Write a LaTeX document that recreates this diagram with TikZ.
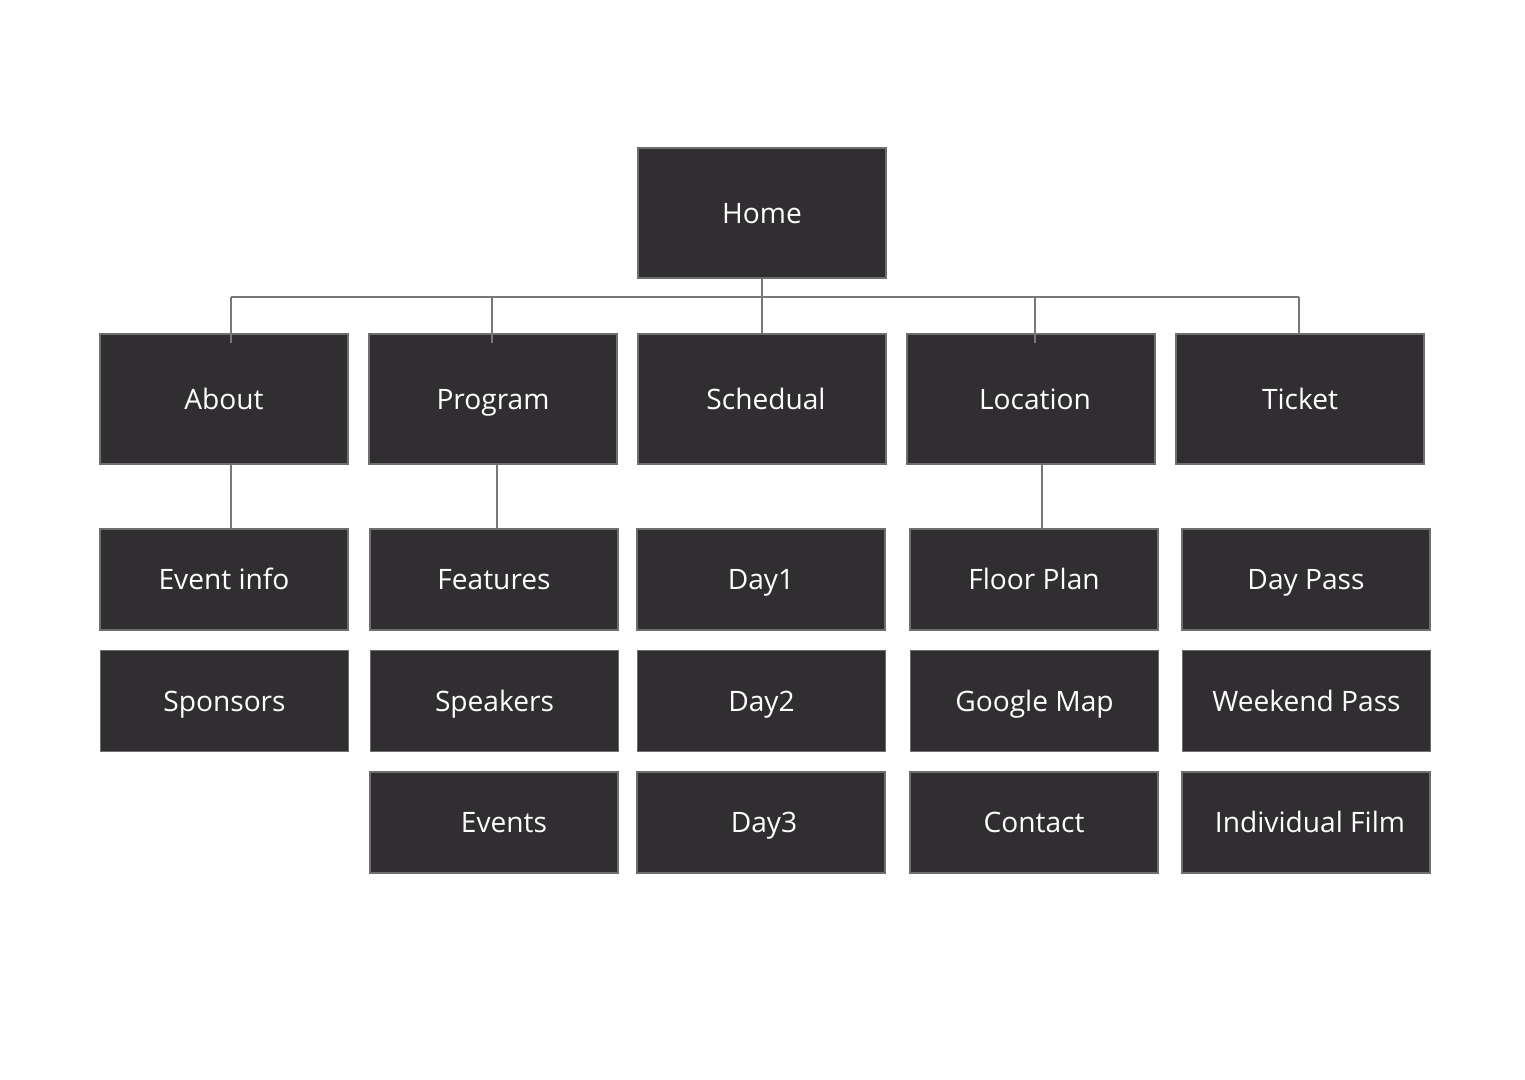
\documentclass[tikz,border=0pt]{standalone}
\usepackage{fontspec}
\setmainfont{Open Sans}
\definecolor{boxfill}{HTML}{302E30}
\definecolor{boxline}{HTML}{6E6E6E}
\definecolor{linkgray}{HTML}{777777}
\tikzset{
  page/.style={draw=boxline, fill=boxfill, text=white, line width=0.4pt,
    minimum width=2.48cm, minimum height=1.01cm, inner sep=0pt,
    text height=1.55ex, text depth=0.45ex,
    font=\fontsize{8}{10}\selectfont},
  tall/.style={page, minimum height=1.30cm},
  link/.style={draw=linkgray, line width=0.5pt}
}
\begin{document}
\begin{tikzpicture}[x=0.01cm, y=-0.01cm]
    \useasboundingbox (0,0) rectangle (1525,1080);
    % top level
    \node[tall] (home) at (762,213) {Home};
    \node[tall] (about) at (224,399) {About};
    \node[tall] (program) at (493,399) {Program};
    \node[tall] (schedual) at (762,399) {\hspace*{0.08cm}Schedual};
    \node[tall] (location) at (1031,399) {\hspace*{0.08cm}Location};
    \node[tall] (ticket) at (1300,399) {Ticket};
    % sub pages
    \node[page] (eventinfo) at (224,579.5) {Event info};
    \node[page] (sponsors) at (224.5,701) {Sponsors};
    \node[page] (features) at (494,579.5) {Features};
    \node[page] (speakers) at (494.5,701) {Speakers};
    \node[page] (events) at (494,822.5) {\hspace*{0.2cm}Events};
    \node[page] (day1) at (761,579.5) {Day1};
    \node[page] (day2) at (761.5,701) {Day2};
    \node[page] (day3) at (761,822.5) {\hspace*{0.06cm}Day3};
    \node[page] (floorplan) at (1034,579.5) {Floor Plan};
    \node[page] (googlemap) at (1034.5,701) {Google Map};
    \node[page] (contact) at (1034,822.5) {Contact};
    \node[page] (daypass) at (1306,579.5) {Day Pass};
    \node[page] (weekendpass) at (1306.5,701) {Weekend Pass};
    \node[page] (indfilm) at (1306,822.5) {\hspace*{0.08cm}Individual Film};
    % bus
    \coordinate (busL) at (231,297);
    \coordinate (busP) at (492,297);
    \coordinate (busLoc) at (1035,297);
    \coordinate (busR) at (1299,297);
    \draw[link] (home.south) -- (home.south |- busL);
    \draw[link] (busL) -- (busR);
    \draw[link] (busL) -- ([yshift=-0.1cm] busL |- about.north);
    \draw[link] (busP) -- ([yshift=-0.1cm] busP |- program.north);
    \draw[link] (home.south |- busL) -- (schedual.north);
    \draw[link] (busLoc) -- ([yshift=-0.1cm] busLoc |- location.north);
    \draw[link] (busR) -- (busR |- ticket.north);
    % children
    \draw[link] (busL |- about.south) -- (busL |- eventinfo.north);
    \draw[link] ([xshift=0.04cm] program.south) -- ([xshift=0.04cm] program.south |- features.north);
    \draw[link] ([xshift=0.11cm] location.south) -- ([xshift=0.11cm] location.south |- floorplan.north);
\end{tikzpicture}
\end{document}
